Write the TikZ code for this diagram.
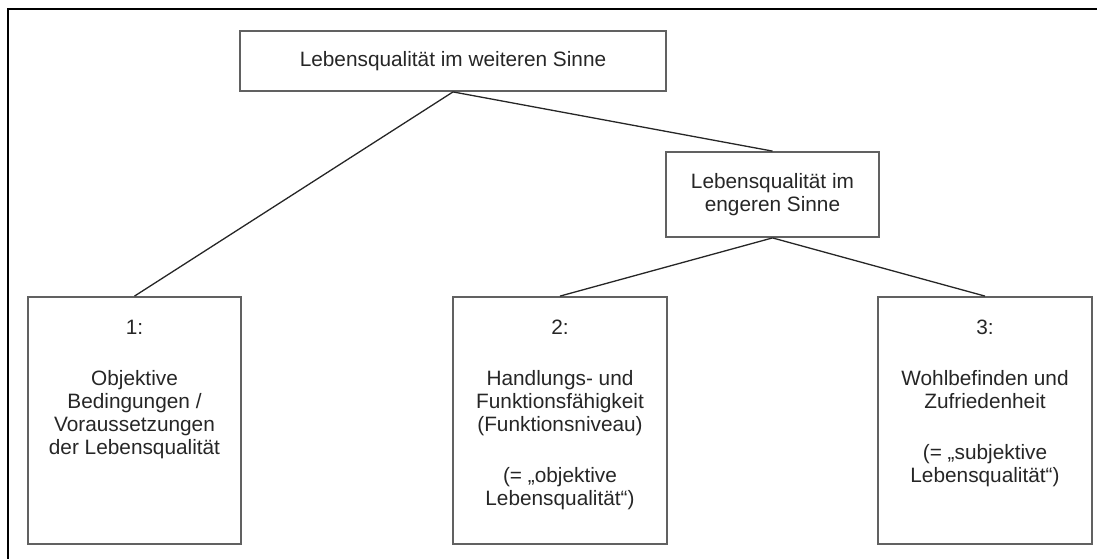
\documentclass[tikz,border=0pt]{standalone}
\usepackage{fontspec}
\setmainfont{Liberation Sans}
\begin{document}
\begin{tikzpicture}[x=1pt,y=-1pt,
  box/.style={draw=black!62,line width=1.8pt,minimum width=#1,inner sep=0pt},
  txt/.style={font=\fontsize{20.8}{23}\selectfont,align=center,inner sep=0pt,text=black!85},
  link/.style={draw=black!85,line width=1.3pt}]
\useasboundingbox (0,0) rectangle (1097,558);
\draw[line width=2.2pt,black] (8,560) -- (8,9) -- (1099,9);
\node[box=426pt,minimum height=60pt] (top) at (453,61) {};
\node[txt] (toptxt) at (top.center) {Lebensqualität im weiteren Sinne};
\node[box=213pt,minimum height=85pt] (mid) at (772.5,194.5) {};
\node[txt] (midtxt) at (mid.center) {Lebensqualität im\\engeren Sinne};
\node[box=213pt,minimum height=247pt] (b1) at (134.5,420.5) {};
\node[box=214pt,minimum height=247pt] (b2) at (560,420.5) {};
\node[box=214pt,minimum height=247pt] (b3) at (985,420.5) {};
\node[txt,anchor=north] (t1) at (134.5,320) {1:\\[28pt]Objektive\\Bedingungen /\\Voraussetzungen\\der Lebensqualität};
\node[txt,anchor=north] (t2) at (560,320) {2:\\[28pt]Handlungs- und\\Funktionsfähigkeit\\(Funktionsniveau)\\[28pt](= „objektive\\Lebensqualität“)};
\node[txt,anchor=north] (t3) at (985,320) {3:\\[28pt]Wohlbefinden und\\Zufriedenheit\\[28pt](= „subjektive\\Lebensqualität“)};
\draw[link] (top.south) -- (b1.north);
\draw[link] (top.south) -- (mid.north);
\draw[link] (mid.south) -- (b2.north);
\draw[link] (mid.south) -- (b3.north);
\end{tikzpicture}
\end{document}
